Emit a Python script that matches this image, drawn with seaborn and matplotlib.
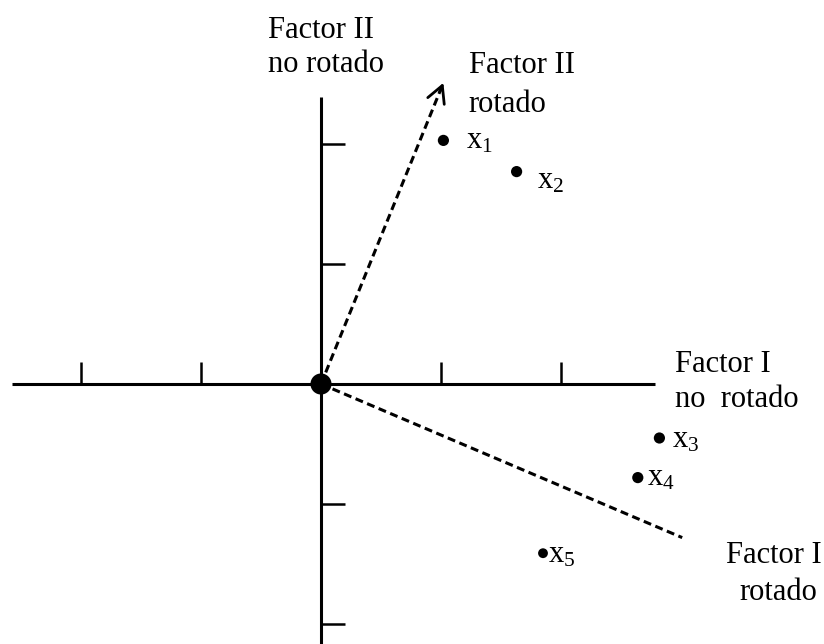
import matplotlib
matplotlib.use("Agg")
import matplotlib.pyplot as plt
import seaborn as sns
import pandas as pd

# Factor loadings of the five variables (unrotated factor space)
var_names = ["1", "2", "3", "4", "5"]
factor1 = [1.02, 1.63, 2.82, 2.64, 1.85]
factor2 = [2.03, 1.77, -0.45, -0.78, -1.41]

# End points of the rotated factor axes
rot_f1_end = [3.01, -1.28]
rot_f2_end = [1.02, 2.51]

# Tick positions on the unrotated axes
tick_vals = [-2, -1, 1, 2]

sns.set_style("white")
plt.rcParams["font.family"] = ["Liberation Serif", "DejaVu Serif"]
plt.rcParams["text.color"] = "black"
plt.rcParams["mathtext.fontset"] = "custom"
plt.rcParams["mathtext.rm"] = "Liberation Serif"
plt.rcParams["mathtext.it"] = "Liberation Serif:italic"

fig = plt.figure(figsize=(8.24, 6.44), dpi=100)
ax = fig.add_axes([0, 0, 1, 1])
scale = 120.0
ax.set_xlim(-321 / scale, (824 - 321) / scale)
ax.set_ylim((384 - 644) / scale, 384 / scale)
ax.set_axis_off()

FS = 22
axis_lw = 2.2

# Unrotated axes
ax.plot([-2.575, 2.78], [0, 0], color="black", lw=axis_lw, solid_capstyle="butt")
ax.plot([0, 0], [2.39, -2.3], color="black", lw=axis_lw, solid_capstyle="butt")
for t in tick_vals:
    ax.plot([t, t], [0, 0.185], color="black", lw=1.8, solid_capstyle="butt")
    ax.plot([0, 0.2], [t, t], color="black", lw=1.8, solid_capstyle="butt")

# Rotated axes (dashed)
dash = (0, (2.6, 1.5))
for end in (rot_f1_end, rot_f2_end):
    seg = pd.DataFrame({"x": [0, end[0]], "y": [0, end[1]]})
    sns.lineplot(data=seg, x="x", y="y", sort=False, color="black",
                 lw=2.2, linestyle=dash, ax=ax, legend=False)

# Open arrow head on rotated factor II
fx, fy = rot_f2_end
ax.annotate("", xy=(fx, fy), xytext=(fx - 0.03 * fx, fy - 0.03 * fy),
            arrowprops=dict(arrowstyle="->,head_length=0.6,head_width=0.32",
                            lw=2.0, color="black", shrinkA=0, shrinkB=0,
                            mutation_scale=20))

# Origin
sns.scatterplot(x=[0], y=[0], s=230, color="black", edgecolor="none", ax=ax, zorder=5)

# Variables
pts = pd.DataFrame({"f1": factor1, "f2": factor2, "name": var_names})
sizes = [65, 65, 65, 65, 50]
sns.scatterplot(data=pts, x="f1", y="f2", s=sizes, color="black",
                edgecolor="none", ax=ax, zorder=5, legend=False)
offsets = [(16, -6), (15, -12), (9, -6.5), (6.5, -6), (3.5, -7)]
for (_, r), off in zip(pts.iterrows(), offsets):
    ax.annotate("x$_{" + r["name"] + "}$", xy=(r["f1"], r["f2"]), xytext=off,
                textcoords="offset points", fontsize=FS, ha="left", va="baseline",
                color="black")

# Axis titles
def label(u, v, s, ha="left"):
    ax.text(u, v, s, fontsize=FS, ha=ha, va="baseline", color="black")

label(-0.442, 2.883, "Factor II")
label(-0.442, 2.60, "no rotado")
label(1.233, 2.59, "Factor II")
label(1.225, 2.267, "rotado")
label(2.95, 0.10, "Factor I")
label(2.95, -0.19, "no  rotado")
label(4.175, -1.49, "Factor I", ha="right")
label(4.133, -1.80, "rotado", ha="right")

ax.set_xlabel("")
ax.set_ylabel("")
fig.savefig("out.png", dpi=100)
